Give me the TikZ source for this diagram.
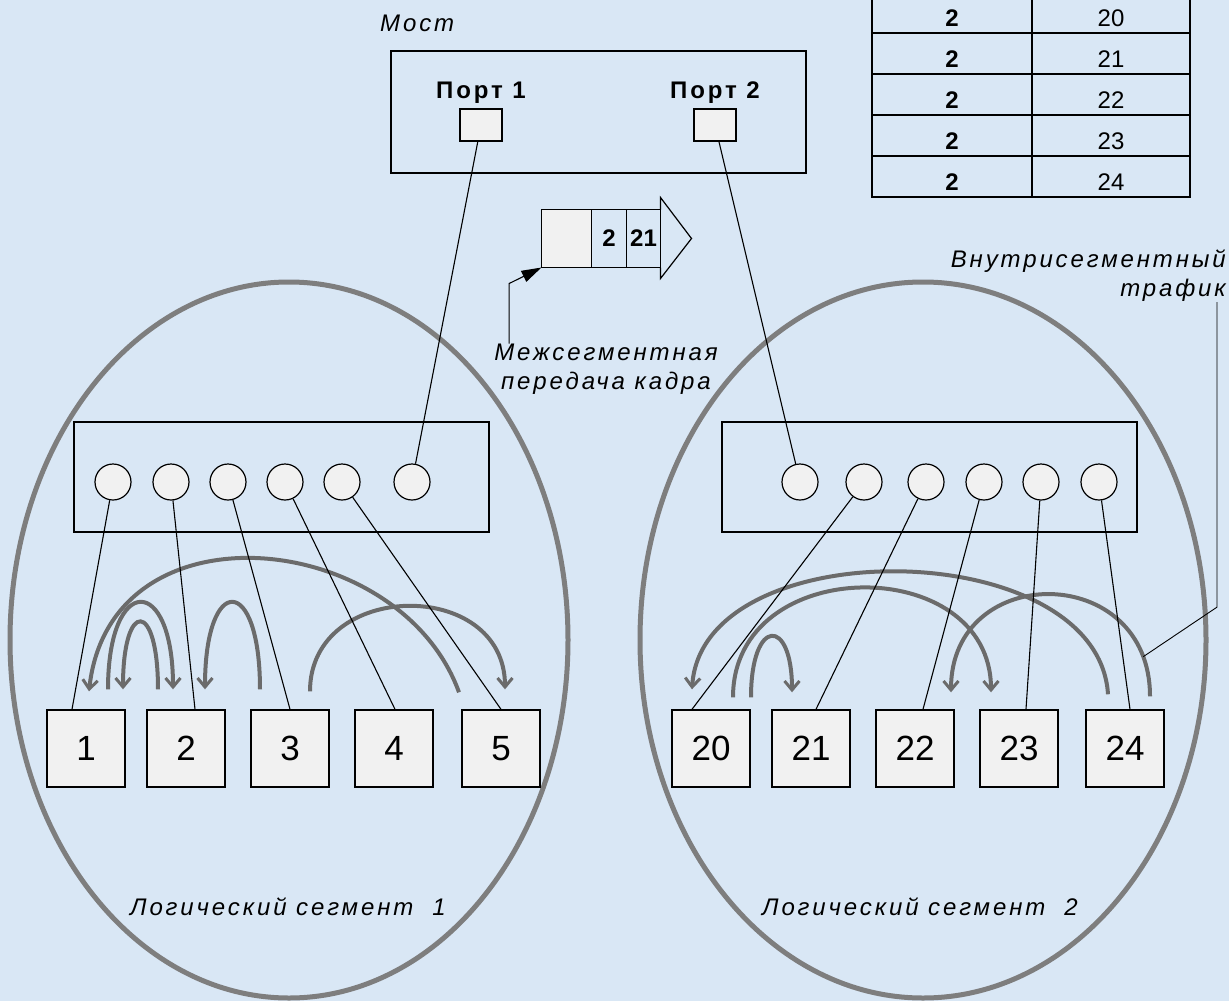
\documentclass[tikz,border=0pt]{standalone}
\usepackage{fontspec}
\setmainfont{Liberation Sans}
\newfontfamily\lblfont[LetterSpace=12]{Liberation Sans}
\usetikzlibrary{arrows.meta,positioning,calc,shapes.geometric}
\definecolor{bgblue}{HTML}{D9E7F5}
\definecolor{paper}{HTML}{F1F1F1}
\definecolor{arcgrey}{HTML}{6B6B6B}
\definecolor{ovalgrey}{HTML}{7E7E7E}

\begin{document}
\begin{tikzpicture}[x=1pt,y=-1pt,
  frame/.style={draw=black,line width=1.6pt,inner sep=0pt,outer sep=0pt},
  stn/.style={draw=black,line width=1.4pt,fill=paper,minimum width=78pt,minimum height=77pt,inner sep=0pt,font=\fontsize{35}{35}\selectfont},
  port/.style={draw=black,line width=1.4pt,fill=paper,minimum width=42pt,minimum height=32pt,inner sep=0pt},
  hole/.style={circle,draw=black,line width=1.2pt,fill=paper,minimum size=36pt,inner sep=0pt},
  cell/.style={draw=black,line width=1.2pt,minimum height=41pt,inner sep=0pt,text height=28pt,text depth=0pt,font=\fontsize{24}{24}\selectfont},
  pkt/.style={draw=black,line width=1.2pt,minimum height=58pt,inner sep=0pt,outer sep=0pt,font=\bfseries\fontsize{24}{24}\selectfont},
  lnk/.style={line width=1.1pt},
  traf/.style={draw=arcgrey,line width=4pt,-{Straight Barb[length=9pt,width=15pt,line width=3pt]}},
  seg/.style={ellipse,draw=ovalgrey,line width=5pt,minimum height=716pt,inner sep=0pt},
  lab/.style={font=\lblfont\itshape\fontsize{24}{29}\selectfont,inner sep=0pt}]
\fill[bgblue] (0,0) rectangle (1229,1001);
\useasboundingbox (0,0) rectangle (1229,1001);
\node[seg,minimum width=558pt] (lan1) at (289,640) {};
\node[seg,minimum width=566pt] (lan2) at (923,640) {};
\node[lab] (lan1lab) at (288,907) {Логический сегмент~~1};
\node[lab] (lan2lab) at (920,907) {Логический сегмент~~2};
\node[frame,line width=2pt,minimum width=415pt,minimum height=122pt] (bridge) at (598.5,112) {};
\node[lab,anchor=base west] (bridgelab) at (380,31) {Мост};
\node[port] (p1) at (481,125) {};
\node[port] (p2) at (715,125) {};
\node[font=\lblfont\bfseries\fontsize{24}{24}\selectfont,inner sep=0pt,above=5pt of p1] (p1lab) {Порт 1};
\node[font=\lblfont\bfseries\fontsize{24}{24}\selectfont,inner sep=0pt,above=5pt of p2] (p2lab) {Порт 2};
\node[cell,font=\bfseries\fontsize{24}{24}\selectfont,minimum width=160pt] (k1) at (952,12.5) {2};
\node[cell,minimum width=158pt] (v1) at (1111,12.5) {20};
\node[cell,font=\bfseries\fontsize{24}{24}\selectfont,minimum width=160pt] (k2) at (952,53.5) {2};
\node[cell,minimum width=158pt] (v2) at (1111,53.5) {21};
\node[cell,font=\bfseries\fontsize{24}{24}\selectfont,minimum width=160pt] (k3) at (952,94.5) {2};
\node[cell,minimum width=158pt] (v3) at (1111,94.5) {22};
\node[cell,font=\bfseries\fontsize{24}{24}\selectfont,minimum width=160pt] (k4) at (952,135.5) {2};
\node[cell,minimum width=158pt] (v4) at (1111,135.5) {23};
\node[cell,font=\bfseries\fontsize{24}{24}\selectfont,minimum width=160pt] (k5) at (952,176.5) {2};
\node[cell,minimum width=158pt] (v5) at (1111,176.5) {24};
\node[pkt,fill=paper,minimum width=50pt] (fhead) at (566.5,238.5) {};
\node[pkt,minimum width=35pt,right=0pt of fhead] (fport) {2};
\node[pkt,minimum width=34pt,right=0pt of fport] (faddr) {21};
\draw[line width=1.2pt] (faddr.north east) -- ++(0,-12) -- ($(faddr.east)+(31,0)$) -- ($(faddr.south east)+(0,11)$) -- (faddr.south east);
\node[lab,align=center] (interlab) at (606,369) {Межсегментная\\передача кадра};
\draw[lnk,-{Triangle[length=20pt,width=12pt]}] ([xshift=15pt]interlab.north west) -- ++(0,-60) -- (fhead.south west);
\node[lab,align=right,anchor=north east] (intralab) at (1226,250) {Внутрисегментный\\трафик};
\node[frame,minimum width=415pt,minimum height=110pt] (hub1) at (281.5,477) {};
\node[frame,minimum width=415pt,minimum height=110pt] (hub2) at (929.5,477) {};
\node[hole] (a1) at (113,482) {};
\node[hole] (a2) at (171,482) {};
\node[hole] (a3) at (228,482) {};
\node[hole] (a4) at (285,482) {};
\node[hole] (a5) at (342,482) {};
\node[hole] (a6) at (412,482) {};
\node[hole] (b1) at (800,482) {};
\node[hole] (b2) at (864,482) {};
\node[hole] (b3) at (926,482) {};
\node[hole] (b4) at (984,482) {};
\node[hole] (b5) at (1041,482) {};
\node[hole] (b6) at (1099,482) {};
\node[stn] (s1) at (86,748.5) {1};
\node[stn] (s2) at (186,748.5) {2};
\node[stn] (s3) at (290,748.5) {3};
\node[stn] (s4) at (394,748.5) {4};
\node[stn] (s5) at (501,748.5) {5};
\node[stn] (s20) at (711,748.5) {20};
\node[stn] (s21) at (811,748.5) {21};
\node[stn] (s22) at (915,748.5) {22};
\node[stn] (s23) at (1019,748.5) {23};
\node[stn] (s24) at (1125,748.5) {24};
\draw[traf] ($(s5.north)+(-42,-17)$) .. controls +(-59,-163) and +(21,-192) .. ($(s1.north)+(3,-18)$);
\draw[traf] ($(s1.north)+(22,-20)$) .. controls +(0,-116) and +(0,-116) .. ($(s2.north)+(-13,-20)$);
\draw[traf] ($(s2.north)+(-28,-20)$) .. controls +(0,-90) and +(0,-90) .. ($(s1.north)+(37,-20)$);
\draw[traf] ($(s3.north)+(-30,-20)$) .. controls +(0,-116) and +(0,-116) .. ($(s2.north)+(19,-20)$);
\draw[traf] ($(s3.north)+(20,-18)$) .. controls +(0,-112) and +(0,-112) .. ($(s5.north)+(4,-20)$);
\draw[traf] ($(s24.north)+(-17,-15)$) .. controls +(-10,-160) and +(10,-160) .. ($(s20.north)+(-19,-20)$);
\draw[traf] ($(s20.north)+(22,-12)$) .. controls +(0,-145) and +(0,-140) .. ($(s23.north)+(-28,-17)$);
\draw[traf] ($(s20.north)+(40,-12)$) .. controls +(0,-80) and +(0,-76) .. ($(s21.north)+(-19,-17)$);
\draw[traf] ($(s24.north)+(25,-13)$) .. controls +(0,-135) and +(0,-131) .. coordinate[pos=0.11] (tap) ($(s22.north)+(36,-17)$);
\draw[lnk,line width=0.9pt] ([xshift=-9pt]intralab.south east) -- ++(0,305) -- (tap);
\draw[lnk] (p1) -- (a6);
\draw[lnk] (p2) -- (b1);
\draw[lnk] (a1) -- ([xshift=-14pt]s1.north);
\draw[lnk] (a2) -- ([xshift=9pt]s2.north);
\draw[lnk] (a3) -- (s3.north);
\draw[lnk] (a4) -- ([xshift=1pt]s4.north);
\draw[lnk] (a5) -- (s5.north);
\draw[lnk] (b2) -- ([xshift=-19pt]s20.north);
\draw[lnk] (b3) -- ([xshift=5pt]s21.north);
\draw[lnk] (b4) -- ([xshift=8pt]s22.north);
\draw[lnk] (b5) -- ([xshift=7pt]s23.north);
\draw[lnk] (b6) -- ([xshift=5pt]s24.north);
\end{tikzpicture}
\end{document}
